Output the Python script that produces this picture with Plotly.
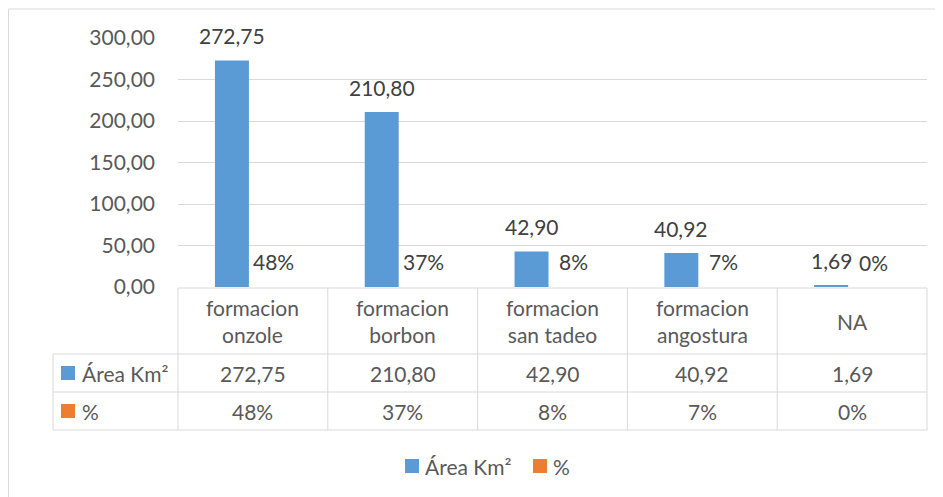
import plotly.graph_objects as go

# ---------------- data ----------------
categories = ["formacion onzole", "formacion borbon", "formacion san tadeo",
              "formacion angostura", "NA"]
category_labels = ["formacion<br>onzole", "formacion<br>borbon", "formacion<br>san tadeo",
                   "formacion<br>angostura", "NA"]
area_km2 = [272.75, 210.80, 42.90, 40.92, 1.69]
pct = [0.48, 0.37, 0.08, 0.07, 0.00]
series_names = ["Área Km²", "%"]
y_ticks = [0, 50, 100, 150, 200, 250, 300]

# ---------------- style ----------------
BLUE = "#5b9bd5"
ORANGE = "#ed7d31"
GRID = "#d9d9d9"
TXT = "#595959"
LBL = "#404040"
FONT = "Lato"
FS = 21

OFF = 8  # page body margin
WIDTH, HEIGHT = 943 - OFF, 497 - OFF
# plot area in page pixels
L, R, T, B = 178, 927, 38, 287
PW, PH = R - L, B - T


def px(x):
    return (x - L) / PW


def py(y):
    return (B - y) / PH


def fmt_num(v):
    return f"{v:.2f}".replace(".", ",")


def fmt_pct(v):
    return f"{round(v * 100)}%"


fig = go.Figure()
fig.add_trace(go.Bar(x=categories, y=area_km2, name=series_names[0],
                     marker=dict(color=BLUE, line=dict(width=0)), showlegend=False))
fig.add_trace(go.Bar(x=categories, y=pct, name=series_names[1],
                     marker=dict(color=ORANGE, opacity=0, line=dict(width=0)),
                     showlegend=False))

annotations = []
shapes = []

# data labels
for c, v in zip(categories, area_km2):
    annotations.append(dict(x=c, y=v, xref="x", yref="y", text=fmt_num(v), showarrow=False,
                            xshift=-21, yshift=25, font=dict(family=FONT, size=FS, color=LBL)))
for c, v in zip(categories, pct):
    annotations.append(dict(x=c, y=v, xref="x", yref="y", text=fmt_pct(v), showarrow=False,
                            xshift=21, yshift=25, font=dict(family=FONT, size=FS, color=LBL)))

# data table
HDR_TOP, ROW1_TOP, ROW2_TOP, TBL_BOT = 288, 354, 392, 430
KEY_LEFT = 53
line = dict(color=GRID, width=1)
shapes.append(dict(type="line", xref="paper", yref="paper", x0=px(L), x1=px(R),
                   y0=py(HDR_TOP), y1=py(HDR_TOP), line=line))
for yy in (ROW1_TOP, ROW2_TOP, TBL_BOT):
    shapes.append(dict(type="line", xref="paper", yref="paper", x0=px(KEY_LEFT), x1=px(R),
                       y0=py(yy), y1=py(yy), line=line))
n = len(categories)
for i in range(n + 1):
    xx = L + i * PW / n
    shapes.append(dict(type="line", xref="paper", yref="paper", x0=px(xx), x1=px(xx),
                       y0=py(HDR_TOP), y1=py(TBL_BOT), line=line))
shapes.append(dict(type="line", xref="paper", yref="paper", x0=px(KEY_LEFT), x1=px(KEY_LEFT),
                   y0=py(ROW1_TOP), y1=py(TBL_BOT), line=line))

tfont = dict(family=FONT, size=FS, color=TXT)
for c, lab in zip(categories, category_labels):
    annotations.append(dict(x=c, y=py((HDR_TOP + ROW1_TOP) / 2), xref="x", yref="paper",
                            text=lab, showarrow=False, font=tfont, yanchor="middle"))
rows = [(area_km2, fmt_num, (ROW1_TOP + ROW2_TOP) / 2, BLUE, series_names[0]),
        (pct, fmt_pct, (ROW2_TOP + TBL_BOT) / 2, ORANGE, series_names[1])]
for vals, f, yc, col, name in rows:
    for c, v in zip(categories, vals):
        annotations.append(dict(x=c, y=py(yc), xref="x", yref="paper", text=f(v),
                                showarrow=False, font=tfont, yanchor="middle"))
    shapes.append(dict(type="rect", xref="paper", yref="paper", x0=px(61), x1=px(75),
                       y0=py(yc - 7), y1=py(yc + 7), fillcolor=col, line=dict(width=0)))
    annotations.append(dict(x=px(80), y=py(yc), xref="paper", yref="paper", text=name,
                            showarrow=False, font=tfont, xanchor="left", yanchor="middle"))

# bottom legend
LEG_Y = 466
for x0, col, name in [(405, BLUE, series_names[0]), (533, ORANGE, series_names[1])]:
    shapes.append(dict(type="rect", xref="paper", yref="paper", x0=px(x0), x1=px(x0 + 14),
                       y0=py(LEG_Y - 7), y1=py(LEG_Y + 7), fillcolor=col, line=dict(width=0)))
    annotations.append(dict(x=px(x0 + 18), y=py(LEG_Y), xref="paper", yref="paper", text=name,
                            showarrow=False, font=tfont, xanchor="left", yanchor="middle"))

# chart border
shapes.append(dict(type="rect", xref="paper", yref="paper", x0=px(8.5), x1=px(960),
                   y0=py(9), y1=py(520), line=dict(color=GRID, width=1), layer="below"))

fig.update_layout(
    width=WIDTH, height=HEIGHT,
    margin=dict(l=L - OFF, r=943 - R, t=T - OFF, b=497 - B, pad=0),
    paper_bgcolor="white", plot_bgcolor="white",
    barmode="group", bargap=0.44, bargroupgap=0.19,
    separators=",.",
    font=dict(family=FONT, size=FS, color=TXT),
    xaxis=dict(type="category", range=[-0.5, n - 0.5], showticklabels=False,
               showgrid=False, zeroline=False, showline=False, fixedrange=True),
    yaxis=dict(range=[0, 300], tickvals=y_ticks, tickformat=".2f", showgrid=True,
               gridcolor=GRID, gridwidth=1, zeroline=False, showline=False, ticks="",
               ticklabelstandoff=22, tickfont=dict(family=FONT, size=FS, color=TXT),
               fixedrange=True),
    shapes=shapes, annotations=annotations, showlegend=False,
)

fig.write_html("out.html")
